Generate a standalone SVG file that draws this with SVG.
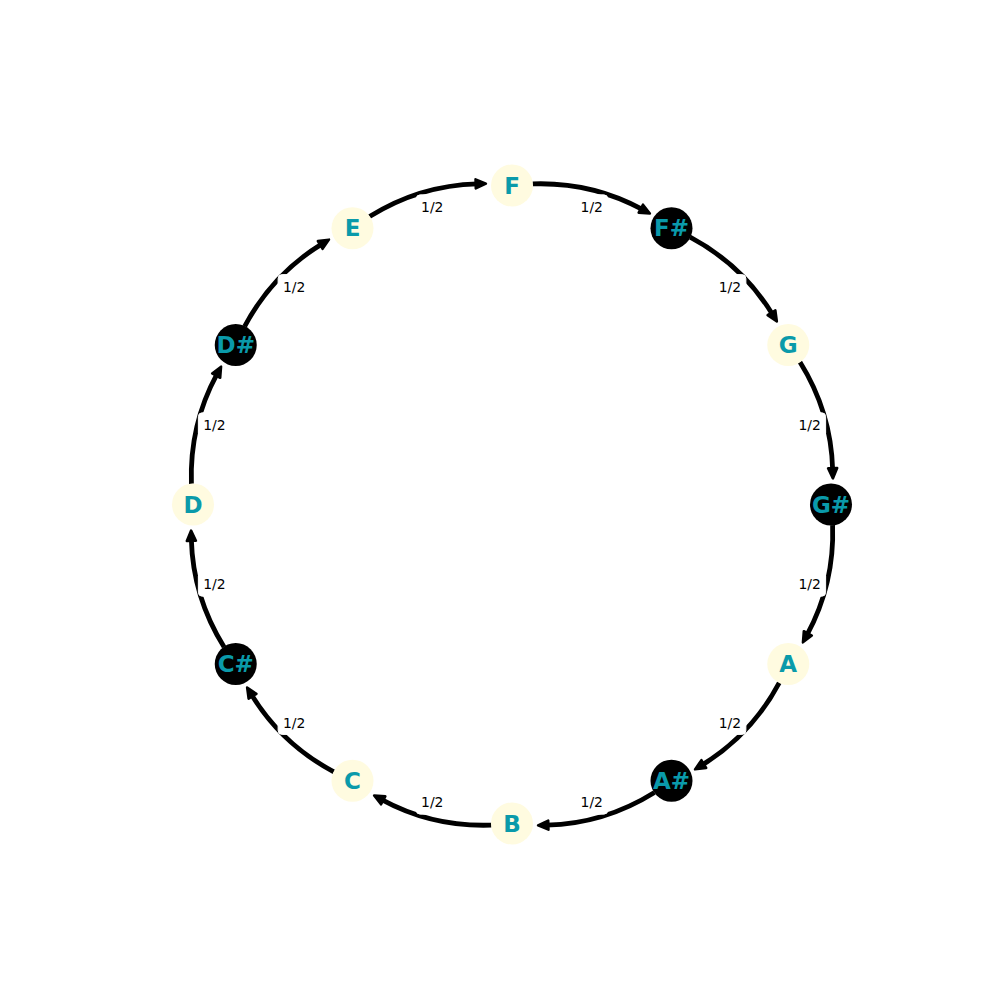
<svg xmlns="http://www.w3.org/2000/svg" width="1000" height="1000" viewBox="0 0 1000 1000">
  <defs>
    <style>
      .edge { fill: none; stroke: #000; stroke-width: 4.8; stroke-linecap: butt; marker-end: url(#arrow); }
      .lbox { fill: #fff; stroke: #fff; stroke-width: 1; }
      .ltxt { font-family: "DejaVu Sans", "Liberation Sans", sans-serif; font-size: 13.9px; fill: #000; text-anchor: middle; }
      .nat { fill: #fffbe0; }
      .sharp { fill: #000; }
      .ntxt { font-family: "DejaVu Sans", "Liberation Sans", sans-serif; font-size: 23px; font-weight: bold; fill: #0a9aaa; text-anchor: middle; }
    </style>
    <marker id="arrow" markerUnits="userSpaceOnUse" markerWidth="16" markerHeight="16" viewBox="-3 -7 14 14" refX="0" refY="0" orient="auto">
      <polygon points="-1.5,-4 7.5,0 -1.5,4" fill="#000" stroke="#000" stroke-width="2.2" stroke-linejoin="round"/>
    </marker>
  </defs>
  <rect x="0" y="0" width="1000" height="1000" fill="#fff"/>

  <g id="connectors">
    <path id="e-F-Fs" class="edge" d="M532.6,183.91 Q591.45,181.86 642.34,209.48"/>
    <path id="e-Fs-G" class="edge" d="M532.6,183.91 Q591.45,181.86 642.34,209.48" transform="rotate(30 512 504.5)"/>
    <path id="e-G-Gs" class="edge" d="M532.6,183.91 Q591.45,181.86 642.34,209.48" transform="rotate(60 512 504.5)"/>
    <path id="e-Gs-A" class="edge" d="M532.6,183.91 Q591.45,181.86 642.34,209.48" transform="rotate(90 512 504.5)"/>
    <path id="e-A-As" class="edge" d="M532.6,183.91 Q591.45,181.86 642.34,209.48" transform="rotate(120 512 504.5)"/>
    <path id="e-As-B" class="edge" d="M532.6,183.91 Q591.45,181.86 642.34,209.48" transform="rotate(150 512 504.5)"/>
    <path id="e-B-C" class="edge" d="M532.6,183.91 Q591.45,181.86 642.34,209.48" transform="rotate(180 512 504.5)"/>
    <path id="e-C-Cs" class="edge" d="M532.6,183.91 Q591.45,181.86 642.34,209.48" transform="rotate(210 512 504.5)"/>
    <path id="e-Cs-D" class="edge" d="M532.6,183.91 Q591.45,181.86 642.34,209.48" transform="rotate(240 512 504.5)"/>
    <path id="e-D-Ds" class="edge" d="M532.6,183.91 Q591.45,181.86 642.34,209.48" transform="rotate(270 512 504.5)"/>
    <path id="e-Ds-E" class="edge" d="M532.6,183.91 Q591.45,181.86 642.34,209.48" transform="rotate(300 512 504.5)"/>
    <path id="e-E-F" class="edge" d="M532.6,183.91 Q591.45,181.86 642.34,209.48" transform="rotate(330 512 504.5)"/>
  </g>

  <g id="edge-labels">
    <g id="l1"><rect class="lbox" x="575.75" y="194.87" width="32" height="24" rx="4"/><text class="ltxt" x="591.75" y="212">1/2</text></g>
    <g id="l2"><rect class="lbox" x="713.88" y="274.62" width="32" height="24" rx="4"/><text class="ltxt" x="729.88" y="291.8">1/2</text></g>
    <g id="l3"><rect class="lbox" x="793.63" y="412.75" width="32" height="24" rx="4"/><text class="ltxt" x="809.63" y="429.9">1/2</text></g>
    <g id="l4"><rect class="lbox" x="793.63" y="572.25" width="32" height="24" rx="4"/><text class="ltxt" x="809.63" y="589.4">1/2</text></g>
    <g id="l5"><rect class="lbox" x="713.88" y="710.38" width="32" height="24" rx="4"/><text class="ltxt" x="729.88" y="727.5">1/2</text></g>
    <g id="l6"><rect class="lbox" x="575.75" y="790.13" width="32" height="24" rx="4"/><text class="ltxt" x="591.75" y="807.3">1/2</text></g>
    <g id="l7"><rect class="lbox" x="416.25" y="790.13" width="32" height="24" rx="4"/><text class="ltxt" x="432.25" y="807.3">1/2</text></g>
    <g id="l8"><rect class="lbox" x="278.12" y="710.38" width="32" height="24" rx="4"/><text class="ltxt" x="294.12" y="727.5">1/2</text></g>
    <g id="l9"><rect class="lbox" x="198.37" y="572.25" width="32" height="24" rx="4"/><text class="ltxt" x="214.37" y="589.4">1/2</text></g>
    <g id="l10"><rect class="lbox" x="198.37" y="412.75" width="32" height="24" rx="4"/><text class="ltxt" x="214.37" y="429.9">1/2</text></g>
    <g id="l11"><rect class="lbox" x="278.12" y="274.62" width="32" height="24" rx="4"/><text class="ltxt" x="294.12" y="291.8">1/2</text></g>
    <g id="l12"><rect class="lbox" x="416.25" y="194.87" width="32" height="24" rx="4"/><text class="ltxt" x="432.25" y="212">1/2</text></g>
  </g>

  <g id="node-F"><circle class="nat" cx="512" cy="185.5" r="21"/><text class="ntxt" x="512" y="193.5">F</text></g>
  <g id="node-Fs"><circle class="sharp" cx="671.5" cy="228.24" r="21"/><text class="ntxt" x="671.5" y="236.2">F#</text></g>
  <g id="node-G"><circle class="nat" cx="788.26" cy="345" r="21"/><text class="ntxt" x="788.26" y="353">G</text></g>
  <g id="node-Gs"><circle class="sharp" cx="831" cy="504.5" r="21"/><text class="ntxt" x="831" y="512.5">G#</text></g>
  <g id="node-A"><circle class="nat" cx="788.26" cy="664" r="21"/><text class="ntxt" x="788.26" y="672">A</text></g>
  <g id="node-As"><circle class="sharp" cx="671.5" cy="780.76" r="21"/><text class="ntxt" x="671.5" y="788.7">A#</text></g>
  <g id="node-B"><circle class="nat" cx="512" cy="823.5" r="21"/><text class="ntxt" x="512" y="831.5">B</text></g>
  <g id="node-C"><circle class="nat" cx="352.5" cy="780.76" r="21"/><text class="ntxt" x="352.5" y="788.7">C</text></g>
  <g id="node-Cs"><circle class="sharp" cx="235.74" cy="664" r="21"/><text class="ntxt" x="235.74" y="672">C#</text></g>
  <g id="node-D"><circle class="nat" cx="193" cy="504.5" r="21"/><text class="ntxt" x="193" y="512.5">D</text></g>
  <g id="node-Ds"><circle class="sharp" cx="235.74" cy="345" r="21"/><text class="ntxt" x="235.74" y="353">D#</text></g>
  <g id="node-E"><circle class="nat" cx="352.5" cy="228.24" r="21"/><text class="ntxt" x="352.5" y="236.2">E</text></g>
</svg>
